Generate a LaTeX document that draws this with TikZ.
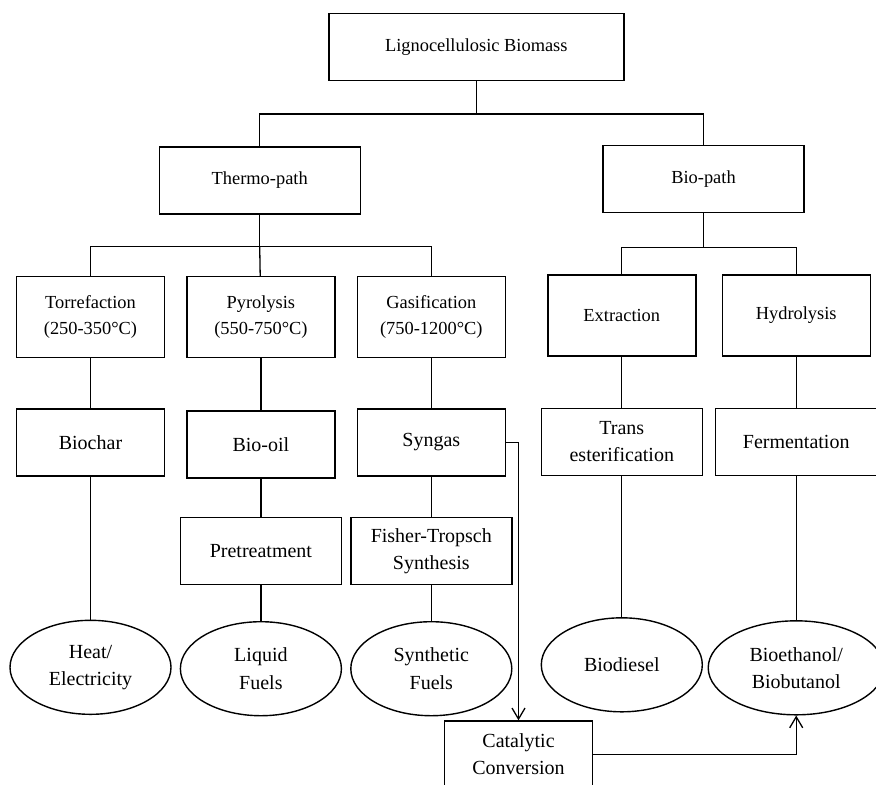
\documentclass[tikz,border=0pt]{standalone}
\usepackage{fontspec}
\setmainfont{Liberation Serif}
\usetikzlibrary{arrows.meta,positioning,shapes.geometric}
\tikzset{
  fbox/.style={draw, line width=0.7pt, align=center, inner sep=2pt,
               minimum height=33.5pt, font=\fontsize{10}{13.4}\selectfont},
  ntop/.style={fbox, minimum width=100.5pt, font=\fontsize{9.2}{13}\selectfont},
  nproc/.style={fbox, minimum width=74pt, minimum height=40.5pt,
                font=\fontsize{9.2}{13}\selectfont},
  nmid/.style={fbox, minimum width=74pt},
  nwide/.style={fbox, minimum width=80.5pt},
  nfuel/.style={draw, ellipse, line width=0.7pt, align=center, inner sep=0pt,
                minimum width=80.5pt, minimum height=47pt,
                font=\fontsize{10}{13.6}\selectfont},
  link/.style={line width=0.65pt},
  flow/.style={-{Straight Barb[length=5.5pt,width=6.5pt]}, line width=0.65pt},
}
\begin{document}
\begin{tikzpicture}[x=0.5pt, y=-0.5pt, node distance=25pt and 10.5pt]
  \useasboundingbox (0,0) rectangle (876,784);
  \node[ntop, minimum width=147.5pt] (lb) at (476.3,46.7) {Lignocellulosic Biomass};
  \node[ntop] (thermo) at (259.7,180.5) {Thermo-path};
  \node[ntop] (bio) at (703.5,179) {Bio-path};
  \node[nproc] (torr) at (90.5,317) {Torrefaction\\(250-350°C)};
  \node[nproc, right=of torr] (pyro) {Pyrolysis\\(550-750°C)};
  \node[nproc, right=of pyro] (gasif) {Gasification\\(750-1200°C)};
  \node[nproc] (extr) at (621.8,315.5) {Extraction};
  \node[nproc, right=12.5pt of extr] (hydro) {Hydrolysis};
  \node[nmid, below=of torr] (char) {Biochar};
  \node[nmid, below=26pt of pyro] (oil) {Bio-oil};
  \node[nmid, below=of gasif] (syn) {Syngas};
  \node[nwide, below=25.5pt of extr] (trans) {Trans\\esterification};
  \node[nwide, below=25.5pt of hydro] (ferm) {Fermentation};
  \node[nwide, below=19pt of oil] (pre) {Pretreatment};
  \node[nwide, below=20pt of syn] (ft) {Fisher-Tropsch\\Synthesis};
  \node[nfuel, below=71.5pt of char] (heat) {Heat/\\Electricity};
  \node[nfuel, below=18pt of pre] (liq) {Liquid\\Fuels};
  \node[nfuel, below=18pt of ft] (synth) {Synthetic\\Fuels};
  \node[nfuel, below=70.5pt of trans] (biod) {Biodiesel};
  \node[nfuel, minimum width=88pt, below=72pt of ferm] (bioeth) {Bioethanol/\\Biobutanol};
  \node[nmid] (cat) at (518.5,754.5) {Catalytic\\Conversion};
  \path (lb.south) ++(0,33) coordinate (j0);
  \path (thermo.south) ++(0,32) coordinate (j1);
  \path (bio.south) ++(0,34) coordinate (j2);
  \draw[link] (lb) -- (j0);
  \draw[link] (j0) -| (thermo);
  \draw[link] (j0) -| (bio);
  \draw[link] (thermo) -- (j1);
  \draw[link] (j1) -| (torr);
  \draw[link] (j1) -- (pyro);
  \draw[link] (j1) -| (gasif);
  \draw[link] (bio) -- (j2);
  \draw[link] (j2) -| (extr);
  \draw[link] (j2) -| (hydro);
  \foreach \a/\b in {torr/char, pyro/oil, gasif/syn, extr/trans, hydro/ferm,
                     char/heat, oil/pre, pre/liq, syn/ft, ft/synth,
                     trans/biod, ferm/bioeth}
    \draw[link] (\a) -- (\b);
  \draw[flow] (syn) -| (cat);
  \draw[flow] (cat) -| (bioeth);
\end{tikzpicture}
\end{document}
